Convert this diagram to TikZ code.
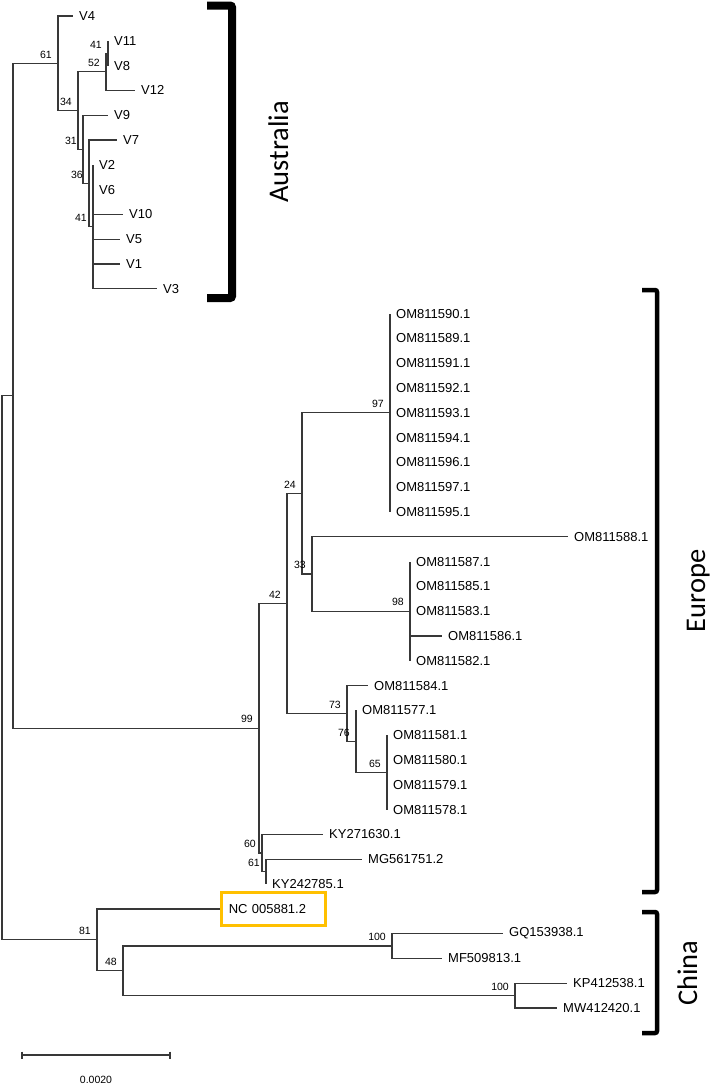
\documentclass[tikz,border=0pt]{standalone}
\usepackage{fontspec}
\newfontfamily\leaffont{Liberation Sans}
\newfontfamily\regionfont{Carlito}
\definecolor{boxgold}{HTML}{FFC000}

\begin{document}
\begin{tikzpicture}[x=1pt, y=-1pt,
  branch/.style={draw=black!78, line width=1.1pt},
  leaf/.style={anchor=west, inner xsep=6pt, inner ysep=0pt, font=\leaffont\fontsize{13}{15}\selectfont},
  boot/.style={anchor=south east, inner sep=0pt, xshift=-6pt, yshift=5pt, font=\leaffont\fontsize{10.5}{12}\selectfont},
  region/.style={rotate=90, anchor=base, inner sep=0pt, font=\regionfont\fontsize{28.5}{30}\selectfont},
  bracket/.style={draw=black, line width=4.5pt, rounded corners=2pt}]

  \useasboundingbox (0,0) rectangle (714,1088);

  % Internal nodes:
  \coordinate (root) at (2,667.8);
  \coordinate (nAE) at (13,395.75);
  \coordinate (n61a) at (58,63.3);
  \coordinate (n34) at (78,110.55);
  \coordinate (n52) at (106,71.8);
  \coordinate (n41a) at (108,53.2);
  \coordinate (n31) at (83,149.3);
  \coordinate (n36) at (89,183.4);
  \coordinate (n41b) at (93,226.8);
  \coordinate (n99) at (259,728.2);
  \coordinate (n42) at (287,603.45);
  \coordinate (n24) at (302,493.4);
  \coordinate (n97) at (390,412.8);
  \coordinate (n33) at (312,574);
  \coordinate (n98) at (410,611.2);
  \coordinate (n73) at (347,713.5);
  \coordinate (n76) at (356,741.4);
  \coordinate (n65) at (387,772.4);
  \coordinate (n60) at (262,853);
  \coordinate (n61b) at (266,871.6);
  \coordinate (n81) at (97,939.8);
  \coordinate (n48) at (123,970.8);
  \coordinate (n100a) at (392,946);
  \coordinate (n100b) at (515,995.6);

  % Leaves:
  \node[leaf] (v4) at (73,16) {V4};
  \node[leaf] (v11) at (108,40.8) {V11};
  \node[leaf] (v8) at (108,65.6) {V8};
  \node[leaf] (v12) at (135,90.4) {V12};
  \node[leaf] (v9) at (108,115.2) {V9};
  \node[leaf] (v7) at (117,140) {V7};
  \node[leaf] (v2) at (93,164.8) {V2};
  \node[leaf] (v6) at (93,189.6) {V6};
  \node[leaf] (v10) at (123,214.4) {V10};
  \node[leaf] (v5) at (120,239.2) {V5};
  \node[leaf] (v1) at (120,264) {V1};
  \node[leaf] (v3) at (157,288.8) {V3};
  \foreach \id [count=\i from 12] in {590,589,591,592,593,594,596,597,595}
    \node[leaf] (om\id) at (390,{16+24.8*\i}) {OM811\id.1};
  \node[leaf] (om588) at (568,536.8) {OM811588.1};
  \node[leaf] (om587) at (410,561.6) {OM811587.1};
  \node[leaf] (om585) at (410,586.4) {OM811585.1};
  \node[leaf] (om583) at (410,611.2) {OM811583.1};
  \node[leaf] (om586) at (442,636) {OM811586.1};
  \node[leaf] (om582) at (410,660.8) {OM811582.1};
  \node[leaf] (om584) at (368,685.6) {OM811584.1};
  \node[leaf] (om577) at (356,710.4) {OM811577.1};
  \node[leaf] (om581) at (387,735.2) {OM811581.1};
  \node[leaf] (om580) at (387,760) {OM811580.1};
  \node[leaf] (om579) at (387,784.8) {OM811579.1};
  \node[leaf] (om578) at (387,809.6) {OM811578.1};
  \node[leaf] (ky271630) at (323,834.4) {KY271630.1};
  \node[leaf] (mg561751) at (362,859.2) {MG561751.2};
  \node[leaf] (ky242785) at (266,884) {KY242785.1};
  \node[leaf, draw=boxgold, line width=2.5pt, inner xsep=7.5pt, text width=89pt,
        align=left, minimum height=33pt] (nc) at (220,909) {NC 005881.2};
  \node[leaf] (gq153938) at (503,933.6) {GQ153938.1};
  \node[leaf] (mf509813) at (442,958.4) {MF509813.1};
  \node[leaf] (kp412538) at (567,983.2) {KP412538.1};
  \node[leaf] (mw412420) at (557,1008) {MW412420.1};

  % Connections:
  \draw[branch] (root) |- (nAE) (root) |- (n81);
  \draw[branch] (nAE) |- (n61a) (nAE) |- (n99);
  \draw[branch] (n61a) |- (v4.west) (n61a) |- (n34);
  \draw[branch] (n34) |- (n52) (n34) |- (n31);
  \draw[branch] (n52) |- (n41a) (n52) |- (v12.west);
  \draw[branch] (n41a) |- (v11.west) (n41a) |- (v8.west);
  \draw[branch] (n31) |- (v9.west) (n31) |- (n36);
  \draw[branch] (n36) |- (v7.west) (n36) |- (n41b);
  \foreach \c in {v2,v6,v10,v5,v1,v3}
    \draw[branch] (n41b) |- (\c.west);
  \draw[branch] (n99) |- (n42) (n99) |- (n60);
  \draw[branch] (n42) |- (n24) (n42) |- (n73);
  \draw[branch] (n24) |- (n97) (n24) |- (n33);
  \foreach \c in {590,589,591,592,593,594,596,597,595}
    \draw[branch] (n97) |- (om\c.west);
  \draw[branch] (n33) |- (om588.west) (n33) |- (n98);
  \foreach \c in {587,585,583,586,582}
    \draw[branch] (n98) |- (om\c.west);
  \draw[branch] (n73) |- (om584.west) (n73) |- (n76);
  \draw[branch] (n76) |- (om577.west) (n76) |- (n65);
  \foreach \c in {581,580,579,578}
    \draw[branch] (n65) |- (om\c.west);
  \draw[branch] (n60) |- (ky271630.west) (n60) |- (n61b);
  \draw[branch] (n61b) |- (mg561751.west) (n61b) |- (ky242785.west);
  \draw[branch] (n81) |- (nc.west) (n81) |- (n48);
  \draw[branch] (n48) |- (n100a) (n48) |- (n100b);
  \draw[branch] (n100a) |- (gq153938.west) (n100a) |- (mf509813.west);
  \draw[branch] (n100b) |- (kp412538.west) (n100b) |- (mw412420.west);

  % Bootstrap values:
  \node[boot] at (n61a) {61};
  \node[boot] at (n41a) {41};
  \node[boot] at (n52) {52};
  \node[boot] at (n34) {34};
  \node[boot] at (n31) {31};
  \node[boot] at (n36) {36};
  \node[boot] at (n41b) {41};
  \node[boot] at (n97) {97};
  \node[boot] at (n24) {24};
  \node[boot] at (n33) {33};
  \node[boot] at (n98) {98};
  \node[boot] at (n42) {42};
  \node[boot] at (n99) {99};
  \node[boot] at (n73) {73};
  \node[boot] at (n76) {76};
  \node[boot] at (n65) {65};
  \node[boot] at (n60) {60};
  \node[boot] at (n61b) {61};
  \node[boot] at (n81) {81};
  \node[boot] at (n48) {48};
  \node[boot] at (n100a) {100};
  \node[boot] at (n100b) {100};

  % Regions:
  \draw[bracket, line width=8pt] (207,5.5) -| (232,298) -- (207,298);
  \node[region] (australia) at (288,152) {Australia};
  \draw[bracket] (642,290) -| (657,892) -- (642,892);
  \node[region] (europe) at (705,591) {Europe};
  \draw[bracket] (642,912) -| (657,1033) -- (642,1033);
  \node[region] (china) at (697,973) {China};

  % Scale bar:
  \coordinate (sbl) at (22,1055);
  \coordinate (sbr) at (170,1055);
  \draw[branch] (sbl) -- (sbr);
  \draw[branch] ([yshift=3.5pt]sbl) -- ([yshift=-3.5pt]sbl);
  \draw[branch] ([yshift=3.5pt]sbr) -- ([yshift=-3.5pt]sbr);
  \node[font=\leaffont\fontsize{10.5}{12}\selectfont, inner sep=0pt] (scale) at (96,1080) {0.0020};

\end{tikzpicture}
\end{document}
